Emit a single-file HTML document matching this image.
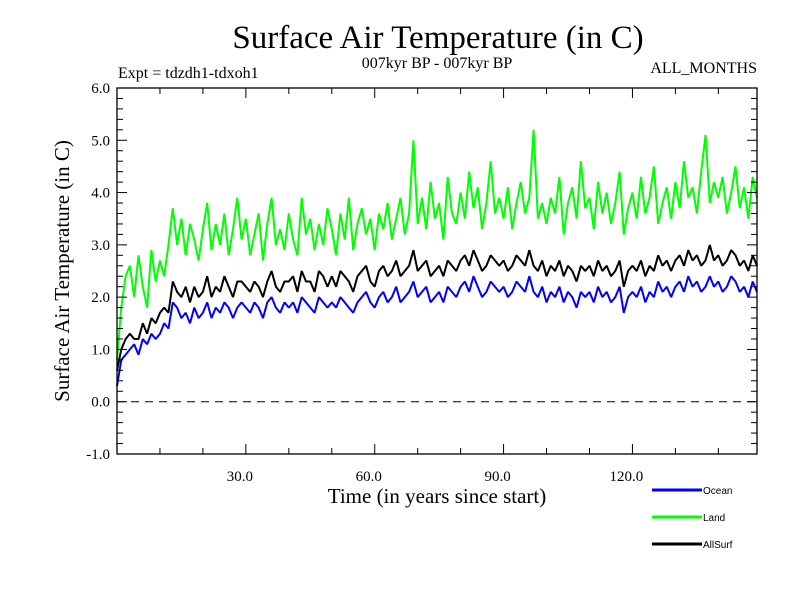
<!DOCTYPE html>
<html><head><meta charset="utf-8"><style>
body{margin:0;background:#fff}
svg text{font-family:"Liberation Serif",serif;fill:#000}
</style></head><body>
<svg id="c" width="800" height="600" viewBox="0 0 800 600" xmlns="http://www.w3.org/2000/svg">
<text x="438" y="48" font-size="33" text-anchor="middle">Surface Air Temperature (in C)</text>
<text x="437" y="68" font-size="16" text-anchor="middle">007kyr BP - 007kyr BP</text>
<text x="118" y="78" font-size="16">Expt = tdzdh1-tdxoh1</text>
<text x="757" y="73" font-size="16" text-anchor="end">ALL_MONTHS</text>
<text x="437" y="503" font-size="21" text-anchor="middle">Time (in years since start)</text>
<text transform="translate(69,271) rotate(-90)" font-size="21" text-anchor="middle">Surface Air Temperature (in C)</text>
<g id="series"></g>
<g id="axes"></g>
<g id="legend"></g>
</svg>
<script>
const years0 = 0;
const yTicks = [-1,0,1,2,3,4,5,6];
const xTicks = [30,60,90,120];
const seriesNames = ["Land","AllSurf","Ocean"];
const seriesColors = ["#00ff00","#000000","#0000ff"];
const ocean = [0.3,0.8,0.9,1.0,1.1,0.9,1.2,1.1,1.3,1.2,
1.3,1.5,1.4,1.9,1.8,1.6,1.7,1.5,1.8,1.6,
1.7,1.9,1.6,1.8,1.7,1.9,1.8,1.6,1.8,1.9,
1.8,1.7,1.9,1.8,1.6,1.9,2.0,1.8,1.7,1.9,
1.8,1.9,1.7,2.0,1.9,1.8,1.7,2.0,1.9,1.8,
1.9,1.8,2.0,1.9,1.8,1.7,1.9,2.0,2.1,1.9,
1.8,2.0,2.1,1.9,2.0,2.2,1.9,2.0,2.1,2.3,
2.0,2.1,2.2,1.9,2.0,2.1,1.9,2.2,2.1,2.0,
2.2,2.3,2.1,2.4,2.2,2.0,2.1,2.3,2.2,2.1,
2.2,2.0,2.1,2.3,2.2,2.1,2.4,2.1,2.0,2.2,
1.9,2.1,2.0,2.2,1.9,2.1,2.0,1.8,2.1,2.0,
2.1,1.9,2.2,2.0,2.1,1.9,2.0,2.2,1.7,2.0,
2.1,2.0,2.2,1.9,2.1,2.0,2.3,2.1,2.2,2.0,
2.2,2.3,2.1,2.4,2.2,2.3,2.1,2.2,2.4,2.2,
2.3,2.1,2.2,2.4,2.3,2.1,2.2,2.0,2.3,2.1];
const land = [0.8,1.8,2.4,2.6,2.0,2.8,2.2,1.8,2.9,2.3,
2.7,2.4,3.0,3.7,3.0,3.5,2.8,3.4,3.1,2.7,
3.3,3.8,2.9,3.4,3.0,3.6,2.8,3.3,3.9,3.1,
3.5,2.8,3.2,3.6,2.7,3.4,3.9,3.0,3.3,2.9,
3.6,3.1,2.8,3.9,3.2,3.5,2.9,3.4,3.0,3.7,
3.3,2.8,3.6,3.1,3.9,2.9,3.4,3.7,3.2,3.5,
2.9,3.6,3.3,3.8,3.1,3.5,3.9,3.2,3.6,5.0,
3.4,3.9,3.3,4.2,3.5,3.8,3.1,4.3,3.6,3.4,
4.0,3.5,4.4,3.7,4.1,3.3,3.8,4.6,3.6,3.9,
3.5,4.1,3.3,3.8,4.2,3.6,3.9,5.2,3.5,3.8,
3.4,3.9,3.6,4.3,3.2,3.8,4.1,3.5,4.6,3.7,
3.9,3.3,4.2,3.6,4.0,3.4,3.8,4.4,3.2,3.7,
4.0,3.5,4.3,3.6,3.9,4.5,3.4,3.8,4.1,3.5,
4.2,3.7,4.6,3.9,4.1,3.6,4.4,5.1,3.8,4.2,
3.9,4.3,3.6,4.0,4.5,3.7,4.1,3.5,4.3,3.9];
const allsurf = [0.6,1.0,1.2,1.3,1.2,1.2,1.5,1.3,1.6,1.5,
1.7,1.8,1.7,2.3,2.1,2.0,2.2,1.9,2.2,2.0,
2.1,2.4,2.0,2.2,2.1,2.4,2.2,2.0,2.3,2.3,
2.2,2.1,2.3,2.2,2.0,2.3,2.5,2.2,2.1,2.3,
2.3,2.4,2.1,2.5,2.3,2.3,2.1,2.5,2.4,2.2,
2.4,2.2,2.5,2.4,2.3,2.1,2.4,2.5,2.6,2.3,
2.2,2.5,2.6,2.4,2.5,2.7,2.4,2.5,2.6,2.9,
2.5,2.6,2.7,2.4,2.5,2.6,2.4,2.7,2.6,2.5,
2.7,2.8,2.6,2.9,2.7,2.5,2.6,2.8,2.7,2.6,
2.7,2.5,2.6,2.8,2.7,2.6,2.9,2.6,2.5,2.7,
2.4,2.6,2.5,2.7,2.4,2.6,2.5,2.3,2.6,2.5,
2.6,2.4,2.7,2.5,2.6,2.4,2.5,2.7,2.2,2.5,
2.6,2.5,2.7,2.4,2.6,2.5,2.8,2.6,2.7,2.5,
2.7,2.8,2.6,2.9,2.7,2.8,2.6,2.7,3.0,2.7,
2.8,2.6,2.7,2.9,2.8,2.6,2.7,2.5,2.8,2.6];

const NS="http://www.w3.org/2000/svg";
const L=117,R=757,T=88,B=454,XMIN=0,XMAX=149,YMIN=-1,YMAX=6;
const sx=v=>L+(v-XMIN)/(XMAX-XMIN)*(R-L);
const sy=v=>B-(v-YMIN)/(YMAX-YMIN)*(B-T);
function mk(tag,attrs,parent){const e=document.createElementNS(NS,tag);for(const k in attrs)e.setAttribute(k,attrs[k]);parent.appendChild(e);return e;}
const sg=document.getElementById('series'),ax=document.getElementById('axes'),lg=document.getElementById('legend');
const data=[land,allsurf,ocean];
data.forEach((arr,i)=>{
  const d=arr.map((v,j)=>(j?'L':'M')+sx(years0+j).toFixed(1)+','+sy(v).toFixed(1)).join('');
  const p=mk('path',{d:d,fill:'none',stroke:seriesColors[i],'stroke-width':2,'stroke-linejoin':'bevel'},sg);
  
  
});
const z=mk('line',{x1:L,x2:R,y1:sy(0),y2:sy(0),stroke:'#000','stroke-dasharray':'8,6'},ax);


const fr=mk('rect',{x:L,y:T,width:R-L,height:B-T,fill:'none',stroke:'#000','stroke-width':1.3},ax);


for(let v=YMIN;v<=YMAX+1e-6;v+=0.2){
  const y=sy(v),major=Math.abs(v-Math.round(v))<1e-6,len=major?10:6;
  mk('line',{x1:L,x2:L+len,y1:y,y2:y,stroke:'#000'},ax);
  mk('line',{x1:R,x2:R-len,y1:y,y2:y,stroke:'#000'},ax);
}
yTicks.forEach(v=>{
  const t=mk('text',{x:L-7,y:sy(v)+5,'font-size':15,'text-anchor':'end'},ax);
  t.textContent=v.toFixed(1);
  
  
});
for(let v=10;v<XMAX;v+=10){
  const x=sx(v),major=v%30===0,len=major?10:6;
  mk('line',{x1:x,x2:x,y1:B,y2:B-len,stroke:'#000'},ax);
  mk('line',{x1:x,x2:x,y1:T,y2:T+len,stroke:'#000'},ax);
}
xTicks.forEach(v=>{
  const t=mk('text',{x:sx(v)-6,y:481,'font-size':15,'text-anchor':'middle'},ax);
  t.textContent=v.toFixed(1);
  
  
});
const legOrder=[2,0,1];
legOrder.forEach((si,k)=>{
  const y=490+k*27;
  const ln=mk('line',{x1:652,x2:702,y1:y,y2:y,stroke:seriesColors[si],'stroke-width':3},lg);
  
  
  const t=mk('text',{x:703,y:y+4,'font-size':10,style:'font-family:"Liberation Sans",sans-serif'},lg);
  t.textContent=seriesNames[si];
  
  
});
</script>
</body></html>
